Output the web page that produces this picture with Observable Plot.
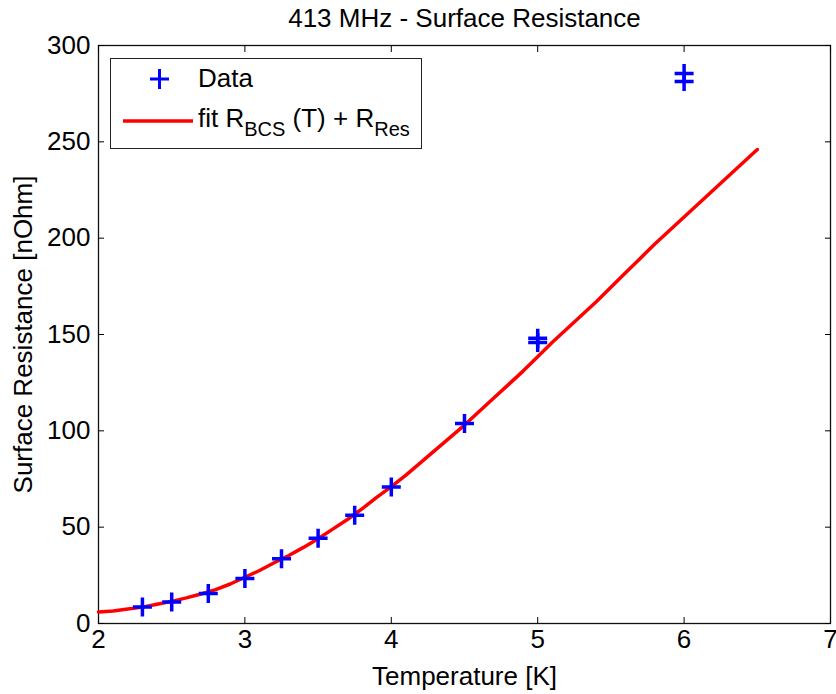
<!DOCTYPE html>
<html>
<head>
<meta charset="utf-8">
<script src="https://cdn.jsdelivr.net/npm/d3@7"></script>
<script src="https://cdn.jsdelivr.net/npm/@observablehq/plot@0.6"></script>
<style>
  html, body { margin: 0; padding: 0; background: white; }
  #wrap { position: relative; width: 836px; height: 694px; font-family: "Liberation Sans", Arial, sans-serif; }
  #legend { position: absolute; left: 110px; top: 58px; width: 312px; height: 91px; border: 1px solid #222; background: white; box-sizing: border-box; font-size: 26px; color: black; }
  #legend .row { position: absolute; left: 0; display: flex; align-items: center; white-space: nowrap; }
  #legend sub { font-size: 20px; vertical-align: -9px; line-height: 0; }
</style>
</head>
<body>
<div id="wrap">
  <div id="chart"></div>
  <div id="legend">
    <div class="row" style="top:4px;">
      <svg width="87" height="30"><g stroke="#0000ff" stroke-width="3"><line x1="39" y1="15" x2="58" y2="15"/><line x1="48.5" y1="5" x2="48.5" y2="25"/></g></svg>
      <span>Data</span>
    </div>
    <div class="row" style="top:44px;">
      <svg width="87" height="30"><line x1="12" y1="17" x2="82" y2="17" stroke="#ff0000" stroke-width="3.5"/></svg>
      <span>fit R<sub>BCS</sub> (T) + R<sub>Res</sub></span>
    </div>
  </div>
</div>
<script>
const xTicks = [2, 3, 4, 5, 6, 7];
const yTicks = [0, 50, 100, 150, 200, 250, 300];

const dataT = [2.3, 2.5, 2.75, 3.0, 3.25, 3.5, 3.75, 4.0, 4.5, 5.0, 5.0, 6.0, 6.0];
const dataR = [8.5, 11.1, 15.6, 23.4, 33.6, 44.2, 56.2, 70.9, 103.8, 148.0, 145.8, 285.5, 281.3];

const fitT = [2.0, 2.1, 2.2, 2.3, 2.4, 2.5, 2.6, 2.7, 2.8, 2.9, 3.0, 3.1, 3.2, 3.3, 3.4, 3.5, 3.6, 3.7, 3.8, 3.9,
              4.0, 4.1, 4.2, 4.3, 4.4, 4.5, 4.6, 4.7, 4.8, 4.9, 5.0, 5.1, 5.2, 5.3, 5.4, 5.5, 5.6, 5.7, 5.8, 5.9,
              6.0, 6.1, 6.2, 6.3, 6.4, 6.5];
const fitR = [6.0, 6.5, 7.5, 8.5, 10.0, 11.5, 13.3, 15.3, 17.6, 20.5, 24.0, 27.5, 31.5, 35.3, 39.5, 44.0, 49.0, 54.0, 59.5, 65.5,
              71.0, 77.0, 83.5, 90.0, 96.5, 103.0, 110.0, 117.0, 124.0, 131.0, 138.5, 146.0, 153.0, 160.0, 167.0, 174.5, 182.0, 189.5, 197.0, 204.0,
              211.0, 218.0, 225.0, 232.0, 239.0, 246.0];

const titleText = "413 MHz - Surface Resistance";
const xLabel = "Temperature [K]";
const yLabel = "Surface Resistance [nOhm]";

const data = dataT.map((t, i) => ({t, r: dataR[i]}));
const fit = fitT.map((t, i) => ({t, r: fitR[i]}));

const plusSymbol = {
  draw(ctx, size) {
    const h = Math.sqrt(size / Math.PI);
    ctx.moveTo(-h, 0); ctx.lineTo(h, 0);
    ctx.moveTo(0, -h); ctx.lineTo(0, h);
  }
};

const chart = Plot.plot({
  width: 836,
  height: 694,
  marginLeft: 98,
  marginRight: 6,
  marginTop: 45,
  marginBottom: 71,
  x: {domain: [2, 7]},
  y: {domain: [0, 300]},
  style: {fontFamily: "'Liberation Sans', Arial, sans-serif", fontSize: "26px", color: "black", background: "white", overflow: "visible"},
  marks: [
    Plot.frame({stroke: "#111", strokeWidth: 1.3}),
    Plot.axisX(xTicks, {anchor: "bottom", tickSize: -6, tickPadding: 12, tickFormat: d => String(d), label: null, fontSize: 26}),
    Plot.axisX(xTicks, {anchor: "top", tickSize: -6, tickFormat: () => "", label: null}),
    Plot.axisY(yTicks, {anchor: "left", tickSize: -6, tickPadding: 14, tickFormat: d => String(d), label: null, fontSize: 26}),
    Plot.axisY(yTicks, {anchor: "right", tickSize: -6, tickFormat: () => "", label: null}),
    Plot.line(fit, {x: "t", y: "r", stroke: "#ff0000", strokeWidth: 3.5}),
    Plot.dot(data, {x: "t", y: "r", symbol: plusSymbol, r: 9.5, stroke: "#0000ff", strokeWidth: 3.5, fill: "none"}),
    Plot.text([xLabel], {frameAnchor: "bottom", lineAnchor: "middle", textAnchor: "middle", dy: 53, fontSize: 26}),
    Plot.text([yLabel], {frameAnchor: "left", rotate: -90, textAnchor: "middle", lineAnchor: "middle", dx: -75, fontSize: 26}),
    Plot.text([titleText], {frameAnchor: "top", lineAnchor: "middle", textAnchor: "middle", dy: -27, fontSize: 26})
  ]
});
document.getElementById("chart").appendChild(chart);
</script>
</body>
</html>
